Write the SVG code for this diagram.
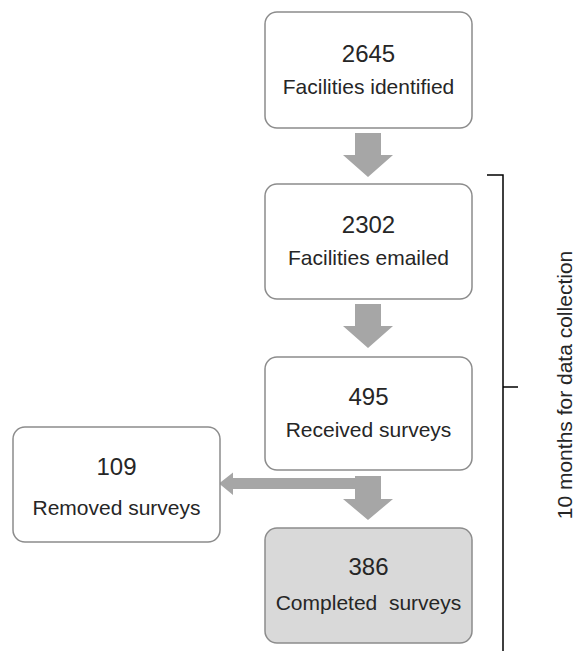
<svg xmlns="http://www.w3.org/2000/svg" width="576" height="651" viewBox="0 0 576 651">
<style>
.box{fill:#ffffff;stroke:#8c8c8c;stroke-width:1.5}
.done{fill:#d9d9d9}
.num{font-family:"Liberation Sans",Arial,sans-serif;font-size:24px;fill:#262626;text-anchor:middle}
.lbl{font-family:"Liberation Sans",Arial,sans-serif;font-size:21px;fill:#262626;text-anchor:middle}
.arr{fill:#a6a6a6}
</style>
<rect width="576" height="651" fill="#ffffff"/>
<g id="connectors">
<polygon class="arr" points="355,133 381,133 381,155 393,155 368,177 343,155 355,155"/>
<polygon class="arr" points="355,304 381,304 381,326 393,326 368,348 343,326 355,326"/>
<polygon class="arr" points="355,476 381,476 381,499 393,499 368,520 343,499 355,499"/>
<polygon class="arr" points="370,478 370,489 233,489 233,495 219,483.5 233,472.5 233,478"/>
<g id="bracket" fill="none" stroke="#000000" stroke-width="1.5">
<polyline points="487,175 503,175 503,651"/>
<line x1="503" y1="387" x2="518" y2="387"/>
</g>
</g>
<g id="n1"><rect class="box" x="265" y="12" width="207" height="116" rx="12"/><text class="num" x="368.5" y="62">2645</text><text class="lbl" x="368.5" y="94">Facilities identified</text></g>
<g id="n2"><rect class="box" x="265" y="184" width="207" height="115" rx="12"/><text class="num" x="368.5" y="233">2302</text><text class="lbl" x="368.5" y="265">Facilities emailed</text></g>
<g id="n3"><rect class="box" x="265" y="357" width="207" height="113" rx="12"/><text class="num" x="368.5" y="405">495</text><text class="lbl" x="368.5" y="437">Received surveys</text></g>
<g id="n4"><rect class="box" x="13" y="427" width="207" height="115" rx="12"/><text class="num" x="116.5" y="475">109</text><text class="lbl" x="116.5" y="515">Removed surveys</text></g>
<g id="n5"><rect class="box done" x="265" y="528" width="207" height="115" rx="12"/><text class="num" x="368.5" y="575">386</text><text class="lbl" x="368.5" y="610" xml:space="preserve">Completed  surveys</text></g>
<g id="bracket-label"><text class="lbl" transform="translate(572,385) rotate(-90)" x="0" y="0">10 months for data collection</text></g>
</svg>
